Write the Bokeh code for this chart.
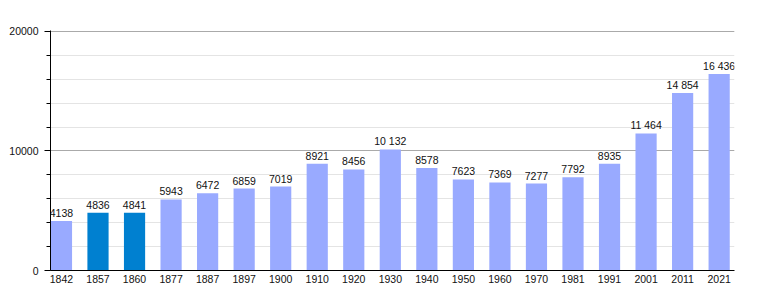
from bokeh.plotting import figure
from bokeh.models import FixedTicker, ColumnDataSource, Range1d, LabelSet
from bokeh.core.properties import value
from bokeh.embed import file_html
from bokeh.resources import INLINE

years = ["1842", "1857", "1860", "1877", "1887", "1897", "1900", "1910", "1920", "1930",
         "1940", "1950", "1960", "1970", "1981", "1991", "2001", "2011", "2021"]
population = [4138, 4836, 4841, 5943, 6472, 6859, 7019, 8921, 8456, 10132,
              8578, 7623, 7369, 7277, 7792, 8935, 11464, 14854, 16436]
highlight = ["1857", "1860"]
y_ticks = [0, 10000, 20000]

LIGHT = "#99aaff"
DARK = "#0080d0"
FONT = "Liberation Sans"
FS = "10.5px"

def fmt(v):
    s = str(v)
    if v >= 10000:
        s = s[:-3] + " " + s[-3:]
    return s

xs = list(range(len(years)))
src = ColumnDataSource(dict(
    x=xs,
    top=population,
    color=[DARK if y in highlight else LIGHT for y in years],
    label=[fmt(v) for v in population],
))

p = figure(width=760, height=300, output_backend="svg", toolbar_location=None,
           x_range=Range1d(-0.3, len(years) - 1 + 0.42), y_range=Range1d(0, 20080),
           min_border_left=50, min_border_right=26, min_border_top=30, min_border_bottom=30)
p.outline_line_color = None
p.background_fill_color = "white"
p.border_fill_color = "white"

p.vbar(x="x", top="top", width=0.58, bottom=0, color="color", line_color=None, source=src)
labels = LabelSet(x="x", y="top", text="label", source=src, text_align="center",
                  text_baseline="alphabetic", y_offset=4, text_font=value(FONT),
                  text_font_size=value(FS), text_color="#111111")
p.add_layout(labels)

# y axis
p.yaxis.ticker = FixedTicker(ticks=y_ticks, minor_ticks=list(range(0, 20001, 2000)))
p.yaxis.axis_line_color = "black"
p.yaxis.major_tick_line_color = "black"
p.yaxis.minor_tick_line_color = "black"
p.yaxis.major_tick_out = 6
p.yaxis.major_tick_in = 0
p.yaxis.minor_tick_out = 4
p.yaxis.minor_tick_in = 0
p.yaxis.major_label_text_font = FONT
p.yaxis.major_label_text_font_size = FS
p.yaxis.major_label_text_color = "#111111"
p.yaxis.major_label_standoff = 6

# x axis
p.xaxis.ticker = FixedTicker(ticks=xs)
p.xaxis.major_label_overrides = {i: y for i, y in enumerate(years)}
p.xaxis.axis_line_color = "black"
p.xaxis.major_tick_line_color = None
p.xaxis.minor_tick_line_color = None
p.xaxis.major_label_text_font = FONT
p.xaxis.major_label_text_font_size = FS
p.xaxis.major_label_text_color = "#111111"
p.xaxis.major_label_standoff = -2

# grids
p.xgrid.grid_line_color = None
p.ygrid.grid_line_color = "#aaaaaa"
p.ygrid.minor_grid_line_color = "#e4e4e4"
p.ygrid.level = "underlay"

open("out.html", "w").write(file_html(p, INLINE))
